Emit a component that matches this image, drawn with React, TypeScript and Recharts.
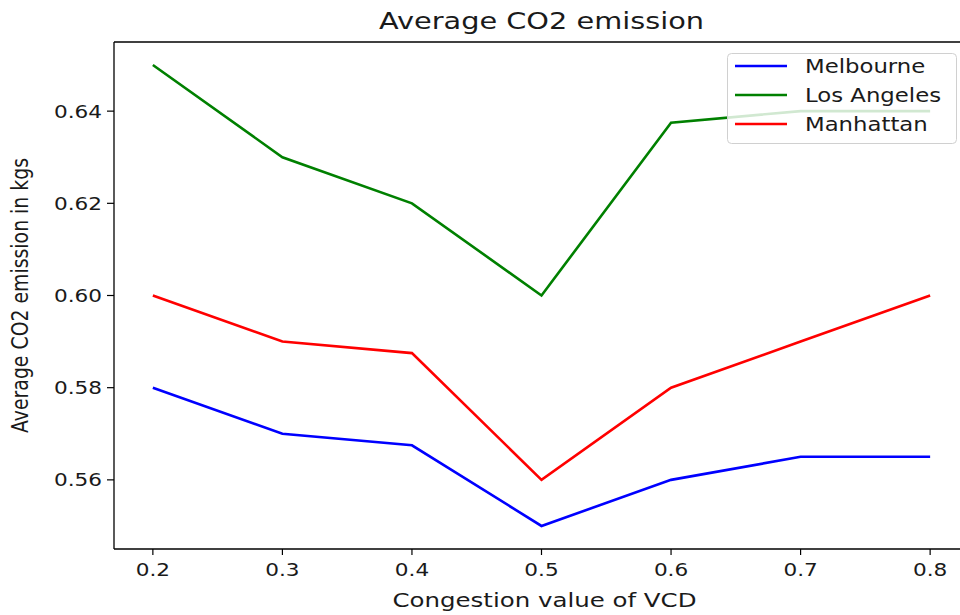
import React from "react";
import { LineChart, Line, XAxis, YAxis, Legend, Label } from "recharts";

const congestion = [0.2, 0.3, 0.4, 0.5, 0.6, 0.7, 0.8];
const melbourne = [0.58, 0.57, 0.5675, 0.55, 0.56, 0.565, 0.565];
const losAngeles = [0.65, 0.63, 0.62, 0.6, 0.6375, 0.64, 0.64];
const manhattan = [0.6, 0.59, 0.5875, 0.56, 0.58, 0.59, 0.6];
const seriesNames = ["Melbourne", "Los Angeles", "Manhattan"];
const xTicks = [0.2, 0.3, 0.4, 0.5, 0.6, 0.7, 0.8];
const yTicks = [0.56, 0.58, 0.6, 0.62, 0.64];

const data = congestion.map((x, i) => ({
  x,
  Melbourne: melbourne[i],
  "Los Angeles": losAngeles[i],
  Manhattan: manhattan[i],
}));

const FONT = "DejaVu Sans, sans-serif";
const TXT = "#1a1a1a";
const SX = 1.2;
const LW = 2.6;

const XTick = (props: any) => {
  const { x, y, payload } = props;
  return (
    <g transform={`translate(${x},${y}) scale(${SX},1)`}>
      <text x={0} y={0} dy={19} textAnchor="middle" fontSize={18} fill={TXT} fontFamily={FONT}>
        {Number(payload.value).toFixed(1)}
      </text>
    </g>
  );
};

const YTick = (props: any) => {
  const { x, y, payload } = props;
  return (
    <g transform={`translate(${x},${y}) scale(${SX},1)`}>
      <text x={0} y={0} dy={6.6} textAnchor="end" fontSize={18} fill={TXT} fontFamily={FONT}>
        {Number(payload.value).toFixed(2)}
      </text>
    </g>
  );
};

const TitleLabel = (props: any) => {
  const vb = props.viewBox || {};
  const cx = vb.x + vb.width / 2;
  return (
    <text x={cx} y={29} textAnchor="middle" fontSize={23} fill={TXT} fontFamily={FONT} textLength={325} lengthAdjust="spacingAndGlyphs">
      Average CO2 emission
    </text>
  );
};

const XLabel = (props: any) => {
  const vb = props.viewBox || {};
  const cx = vb.x + vb.width / 2 + 3;
  return (
    <text x={cx} y={607} textAnchor="middle" fontSize={20} fill={TXT} fontFamily={FONT} textLength={304} lengthAdjust="spacingAndGlyphs">
      Congestion value of VCD
    </text>
  );
};

const YLabel = (props: any) => {
  const vb = props.viewBox || {};
  const cy = vb.y + vb.height / 2;
  return (
    <g transform={`translate(28,${cy}) scale(${SX},1) rotate(-90)`}>
      <text x={0} y={0} textAnchor="middle" fontSize={19} fill={TXT} fontFamily={FONT} textLength={275} lengthAdjust="spacingAndGlyphs">
        Average CO2 emission in kgs
      </text>
    </g>
  );
};

const LegendContent = (props: any) => {
  const payload = [...(props.payload || [])].sort(
    (a: any, b: any) => seriesNames.indexOf(a.value) - seriesNames.indexOf(b.value)
  );
  return (
    <svg width={230} height={91} style={{ display: "block" }}>
      <rect x={0.5} y={0.5} width={229} height={90} rx={4} ry={4} fill="rgba(255,255,255,0.82)" stroke="#d0d0d0" strokeWidth={1} />
      {payload.map((p: any, i: number) => {
        const cy = 13 + i * 29;
        return (
          <g key={p.value}>
            <line x1={8} x2={60} y1={cy} y2={cy} stroke={p.color} strokeWidth={LW} />
            <g transform={`translate(78,${cy + 7}) scale(${SX},1)`}>
              <text x={0} y={0} fontSize={19} fill={TXT} fontFamily={FONT}>
                {p.value}
              </text>
            </g>
          </g>
        );
      })}
    </svg>
  );
};

export default function App() {
  return (
    <div style={{ position: "absolute", left: 0, top: 0, width: 960, height: 615, overflow: "hidden", background: "#fff" }}>
      <LineChart width={975} height={615} data={data} margin={{ top: 0, right: 6, bottom: 0, left: 0 }}>
        <XAxis
          xAxisId="top"
          orientation="top"
          type="number"
          dataKey="x"
          domain={[0.17, 0.83]}
          allowDataOverflow
          height={42}
          tick={false}
          tickLine={false}
          axisLine={{ stroke: "#000", strokeWidth: 1.3 }}
        >
          <Label content={<TitleLabel />} />
        </XAxis>
        <XAxis
          type="number"
          dataKey="x"
          domain={[0.17, 0.83]}
          allowDataOverflow
          ticks={xTicks}
          height={66}
          tick={<XTick />}
          tickSize={6}
          tickMargin={2}
          tickLine={{ stroke: "#000", strokeWidth: 1.2 }}
          axisLine={{ stroke: "#000", strokeWidth: 1.3 }}
        >
          <Label content={<XLabel />} />
        </XAxis>
        <YAxis
          type="number"
          domain={[0.545, 0.655]}
          allowDataOverflow
          ticks={yTicks}
          width={114}
          tick={<YTick />}
          tickSize={7}
          tickMargin={5}
          tickLine={{ stroke: "#000", strokeWidth: 1.2 }}
          axisLine={{ stroke: "#000", strokeWidth: 1.3 }}
        >
          <Label content={<YLabel />} />
        </YAxis>
        <Line xAxisId={0} type="linear" dataKey="Melbourne" stroke="#0000ff" strokeWidth={LW} dot={false} isAnimationActive={false} />
        <Line xAxisId={0} type="linear" dataKey="Los Angeles" stroke="#008000" strokeWidth={LW} dot={false} isAnimationActive={false} />
        <Line xAxisId={0} type="linear" dataKey="Manhattan" stroke="#ff0000" strokeWidth={LW} dot={false} isAnimationActive={false} />
        <Legend
          layout="vertical"
          align="center"
          verticalAlign="middle"
          content={<LegendContent />}
          wrapperStyle={{ position: "absolute", left: 727, top: 53, width: 230, height: 91, zIndex: 10 }}
        />
      </LineChart>
    </div>
  );
}
